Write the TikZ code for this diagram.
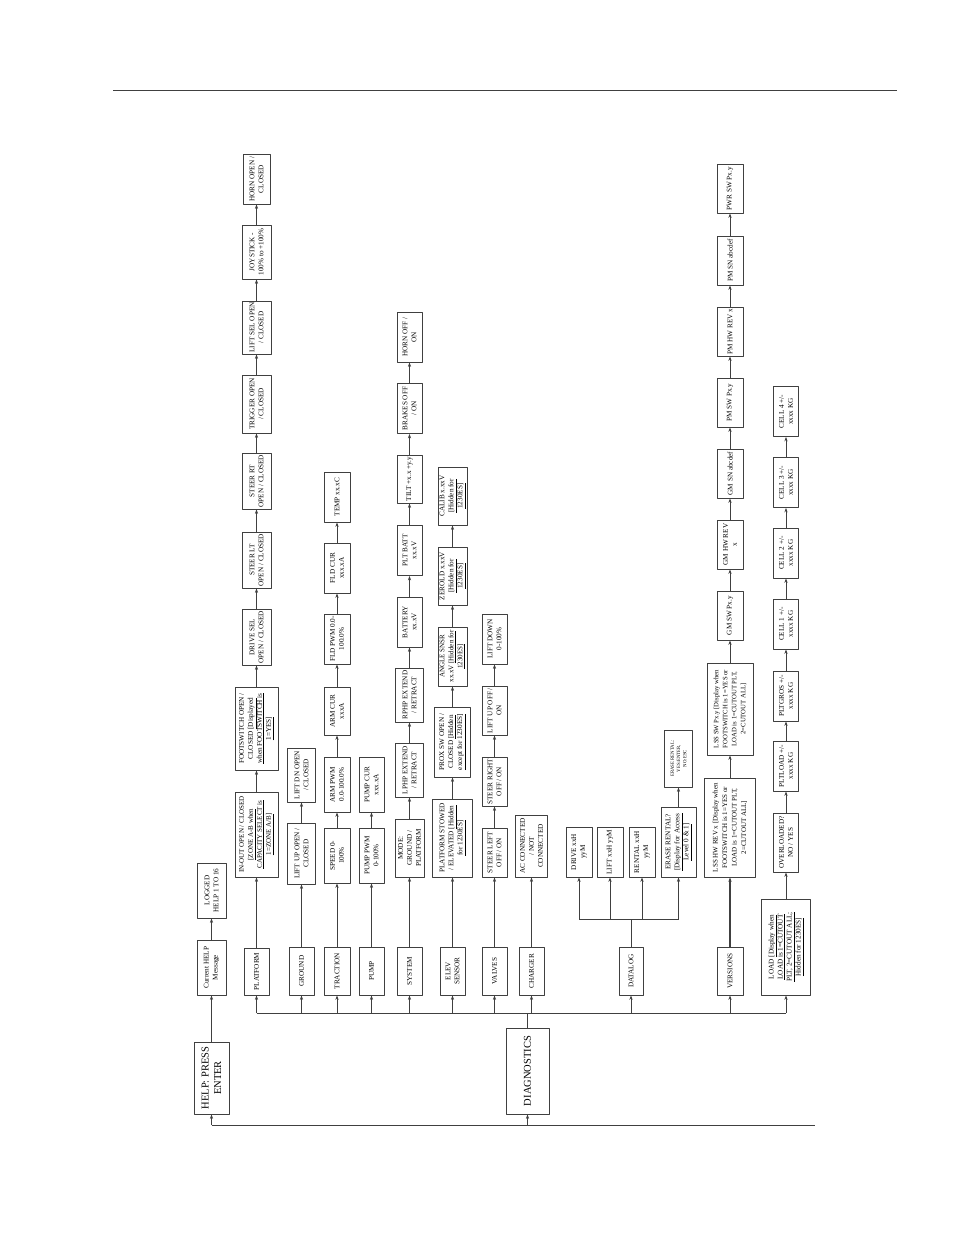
\documentclass[tikz,border=0pt]{standalone}
\usepackage{fontspec}
\setmainfont{Liberation Serif}
\usetikzlibrary{arrows.meta}
\begin{document}
\begin{tikzpicture}[x=1pt,y=-1pt,>={Stealth[length=4.5pt,width=3.2pt]},line join=round,
	box/.style={draw=black!75,line width=0.75pt,rotate=90,align=center,inner sep=1pt,
		minimum width=50,minimum height=26,font=\fontsize{7.2}{9}\selectfont},
	big/.style={box,font=\fontsize{10.5}{12.5}\selectfont},
	link/.style={black!75,line width=0.75pt}]
	\useasboundingbox (0,0) rectangle (954,1235);
	\draw[link] (113,90)--(897,90);
	% main menu
	\node[big,minimum width=72,minimum height=35] (help) at (211.5,1078) {HELP: PRESS\\ENTER};
	\node[big,minimum width=86,minimum height=43] (diag) at (527.5,1071) {DIAGNOSTICS};
	\node[box,minimum width=55,minimum height=29] (curhelp) at (211.5,967.5) {Current HELP\\Message};
	\node[box,minimum width=55,minimum height=29] (logged) at (211.5,890.5) {LOGGED\\HELP 1 TO 16};
	% platform
	\node[box,minimum width=47,minimum height=25] (platform) at (256.5,971.5) {PLATFORM};
	\node[box,minimum width=85,minimum height=43,font=\fontsize{7}{9}\selectfont] (inout) at (256.5,834.5) {IN-OUT OPEN / CLOSED\\\underline{[ZONE A-B when}\\\underline{CAPACITY SELECT is}\\\underline{1=ZONE A/B]}};
	\node[box,minimum width=83,minimum height=43] (footsw) at (256.5,728.5) {FOOTSWITCH OPEN /\\CLOSED \underline{[Displayed}\\\underline{when FOOTSWITCH is}\\\underline{1=YES]}};
	\node[box,minimum width=56,minimum height=29] (drivesel) at (256.5,637) {DRIVE SEL\\OPEN / CLOSED};
	\node[box,minimum width=56,minimum height=29] (steerlt) at (256.5,560) {STEER LT\\OPEN / CLOSED};
	\node[box,minimum width=56,minimum height=29] (steerrt) at (256.5,481) {STEER RT\\OPEN / CLOSED};
	\node[box,minimum width=58,minimum height=29] (trigger) at (256.5,404) {TRIGGER OPEN\\/ CLOSED};
	\node[box,minimum width=53,minimum height=29] (liftsel) at (256.5,327.5) {LIFT SEL OPEN\\/ CLOSED};
	\node[box,minimum width=54,minimum height=29] (joystick) at (256.5,252) {JOYSTICK -\\100\% to +100\%};
	\node[box,minimum width=50,minimum height=27] (hornpl) at (256.5,179) {HORN OPEN /\\CLOSED};
	% ground
	\node[box,minimum width=48,minimum height=25] (ground) at (301.5,971) {GROUND};
	\node[box,minimum width=61,minimum height=28] (liftupg) at (301.5,853.5) {LIFT UP OPEN /\\CLOSED};
	\node[box,minimum width=54,minimum height=28] (liftdng) at (301.5,775) {LIFT DN OPEN\\/ CLOSED};
	% traction
	\node[box,minimum width=48] (traction) at (337,971) {TRACTION};
	\node[box,minimum width=55] (speed) at (337,855.5) {SPEED 0-\\100\%};
	\node[box,minimum width=55] (armpwm) at (337,784.5) {ARM PWM\\0.0-100.0\%};
	\node[box,minimum width=48] (armcur) at (337,711) {ARM CUR\\xxxA};
	\node[box] (fldpwm) at (337,639) {FLD PWM 0.0-\\100.0\%};
	\node[box] (fldcur) at (337,568) {FLD CUR\\xxx.xA};
	\node[box] (temp) at (337,497) {TEMP xx.xC};
	% pump
	\node[box,minimum width=48,minimum height=25] (pump) at (371.5,971) {PUMP};
	\node[box,minimum width=55,minimum height=25] (pumppwm) at (371.5,855.5) {PUMP PWM\\0-100\%};
	\node[box,minimum width=55,minimum height=25] (pumpcur) at (371.5,784.5) {PUMP CUR\\xxx.xA};
	% system
	\node[box,minimum width=48,minimum height=25] (system) at (409.5,971) {SYSTEM};
	\node[box,minimum width=58,minimum height=29] (mode) at (409.5,848) {MODE:\\GROUND /\\PLATFORM};
	\node[box,minimum width=54,minimum height=28] (lphp) at (409.5,770) {LPHP EXTEND\\/ RETRACT};
	\node[box,minimum width=54,minimum height=28] (rphp) at (409.5,695) {RPHP EXTEND\\/ RETRACT};
	\node[box,minimum height=25] (battery) at (409.5,622) {BATTERY\\xx.xV};
	\node[box,minimum height=25] (pltbatt) at (409.5,550.5) {PLT BATT\\xx.xV};
	\node[box,minimum width=48,minimum height=25] (tilt) at (409.5,479) {TILT +x.x +y.y};
	\node[box,minimum height=25] (brakes) at (409.5,408.5) {BRAKES OFF\\/ ON};
	\node[box,minimum height=25] (hornsys) at (409.5,337) {HORN OFF /\\ON};
	% elev sensor
	\node[box,minimum width=48,minimum height=25] (elev) at (452.5,971) {ELEV\\SENSOR};
	\node[box,minimum width=78,minimum height=40] (stowed) at (452.5,838) {PLATFORM STOWED\\/ ELEVATED \underline{[Hidden}\\\underline{for 1230ES]}};
	\node[box,minimum width=70,minimum height=36] (proxsw) at (452.5,742) {PROX SW OPEN /\\CLOSED \underline{[Hidden}\\\underline{except for 1230ES]}};
	\node[box,minimum width=59,minimum height=29,font=\fontsize{7}{9}\selectfont] (angle) at (452.5,656.5) {ANGLE SNSR\\xx.xV \underline{[Hidden for}\\\underline{1230ES]}};
	\node[box,minimum width=58,minimum height=29] (zerold) at (452.5,576) {ZEROLD x.xxV\\\underline{[Hidden for}\\\underline{1230ES]}};
	\node[box,minimum width=58,minimum height=29] (calib) at (452.5,496) {CALIB x.xxV\\\underline{[Hidden for}\\\underline{1230ES]}};
	% valves
	\node[box,minimum width=48,minimum height=25] (valves) at (494.5,971) {VALVES};
	\node[box,minimum width=49,minimum height=25] (steerl) at (494.5,852.5) {STEER LEFT\\OFF / ON};
	\node[box,minimum width=49,minimum height=25] (steerr) at (494.5,781.5) {STEER RIGHT\\OFF / ON};
	\node[box,minimum width=49,minimum height=25] (liftupv) at (494.5,710.5) {LIFT UP OFF /\\ON};
	\node[box,minimum height=25] (liftdnv) at (494.5,639) {LIFT DOWN\\0-100\%};
	% charger
	\node[box,minimum width=48,minimum height=25] (charger) at (531.5,971) {CHARGER};
	\node[box,minimum width=62,minimum height=32] (acconn) at (531.5,846) {AC CONNECTED\\/ NOT\\CONNECTED};
	% datalog
	\node[box,minimum width=48,minimum height=24] (datalog) at (631,971) {DATALOG};
	\node[box] (drive) at (579,852) {DRIVE xxH\\yyM};
	\node[box] (lift) at (610,852) {LIFT xxH yyM};
	\node[box] (rental) at (642,852) {RENTAL xxH\\yyM};
	\node[box,minimum width=70,minimum height=35] (erase) at (678.5,842) {ERASE RENTAL?\\\underline{[Display for Access}\\\underline{Level 0 \& 1]}};
	\node[box,minimum width=57,minimum height=28,font=\fontsize{4.8}{6.2}\selectfont] (eraseyes) at (678.5,758.5) {ERASE RENTAL:\\YES:ENTER,\\NO:ESC};
	% versions
	\node[box,minimum width=48] (versions) at (730,971) {VERSIONS};
	\node[box,minimum width=99,minimum height=51,font=\fontsize{7}{9.5}\selectfont] (lsshw) at (730,827.5) {LSS HW REV x [Display when\\FOOTSWITCH is 1=YES or\\LOAD is 1=CUTOUT PLT,\\2=CUTOUT ALL]};
	\node[box,minimum width=92,minimum height=46,font=\fontsize{6.7}{9}\selectfont] (lsssw) at (730,709) {LSS SW Px.y [Display when\\FOOTSWITCH is 1=YES or\\LOAD is 1=CUTOUT PLT,\\2=CUTOUT ALL]};
	\node[box,minimum width=49] (gmsw) at (730,615.5) {GM SW Px.y};
	\node[box,minimum width=49] (gmhw) at (730,544.5) {GM HW REV\\x};
	\node[box,minimum width=49] (gmsn) at (730,473.5) {GM SN abcdef};
	\node[box,minimum width=49] (pmsw) at (730,402.5) {PM SW Px.y};
	\node[box,minimum width=49] (pmhw) at (730,331.5) {PM HW REV x};
	\node[box,minimum width=49] (pmsn) at (730,260.5) {PM SN abcdef};
	\node[box,minimum width=49] (pwrsw) at (730,188.5) {PWR SW Px.y};
	% load
	\node[box,minimum width=96,minimum height=49] (load) at (786,947) {LOAD \underline{[Display when}\\\underline{LOAD is 1=CUTOUT}\\\underline{PLT, 2=CUTOUT ALL;}\\\underline{Hidden for 1230ES]}};
	\node[box,minimum width=59,minimum height=25] (overload) at (786,842.5) {OVERLOADED?\\NO / YES};
	\node[box,minimum height=25] (pltload) at (786,766) {PLTLOAD +/-\\xxxx KG};
	\node[box,minimum height=25] (pltgros) at (786,696) {PLTGROS +/-\\xxxx KG};
	\node[box,minimum height=25] (cell1) at (786,624) {CELL 1 +/-\\xxxx KG};
	\node[box,minimum height=25] (cell2) at (786,553) {CELL 2 +/-\\xxxx KG};
	\node[box,minimum height=25] (cell3) at (786,482.5) {CELL 3 +/-\\xxxx KG};
	\node[box,minimum height=25] (cell4) at (786,411.5) {CELL 4 +/-\\xxxx KG};
	% connectors
	\coordinate (mainbus) at (815,1125);
	\coordinate (diagbus) at (527.5,1013);
	\coordinate (logbus) at (631,919);
	\draw[link] (help |- mainbus) -- (mainbus);
	\draw[link,->] (help |- mainbus) -- (help);
	\draw[link,->] (diag |- mainbus) -- (diag);
	\draw[link] (platform |- diagbus) -- (load |- diagbus);
	\draw[link] (diag) -- (diagbus);
	\foreach \n in {platform,ground,traction,pump,system,elev,valves,charger,datalog,versions,load}
		\draw[link,->] (\n |- diagbus) -- (\n);
	\draw[link] (drive |- logbus) -- (erase |- logbus);
	\draw[link] (datalog) -- (logbus);
	\foreach \n in {drive,lift,rental,erase}
		\draw[link,->] (\n |- logbus) -- (\n);
	\draw[link,->,line width=1.4pt] (versions) -- (lsshw);
	\foreach \a/\b in {help/curhelp,curhelp/logged,
		platform/inout,inout/footsw,footsw/drivesel,drivesel/steerlt,steerlt/steerrt,steerrt/trigger,trigger/liftsel,liftsel/joystick,joystick/hornpl,
		ground/liftupg,liftupg/liftdng,
		traction/speed,speed/armpwm,armpwm/armcur,armcur/fldpwm,fldpwm/fldcur,fldcur/temp,
		pump/pumppwm,pumppwm/pumpcur,
		system/mode,mode/lphp,lphp/rphp,rphp/battery,battery/pltbatt,pltbatt/tilt,tilt/brakes,brakes/hornsys,
		elev/stowed,stowed/proxsw,proxsw/angle,angle/zerold,zerold/calib,
		valves/steerl,steerl/steerr,steerr/liftupv,liftupv/liftdnv,
		charger/acconn,erase/eraseyes,
		lsshw/lsssw,lsssw/gmsw,gmsw/gmhw,gmhw/gmsn,gmsn/pmsw,pmsw/pmhw,pmhw/pmsn,pmsn/pwrsw,
		load/overload,overload/pltload,pltload/pltgros,pltgros/cell1,cell1/cell2,cell2/cell3,cell3/cell4}
		\draw[link,->] (\a) -- (\b);
\end{tikzpicture}
\end{document}
